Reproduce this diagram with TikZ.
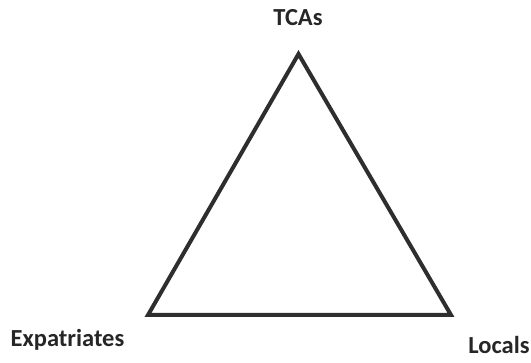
\documentclass[tikz,border=0pt]{standalone}
\usepackage{fontspec}
\setmainfont{Carlito}
\begin{document}
\begin{tikzpicture}[x=1pt,y=-1pt,
  lbl/.style={font=\fontsize{24.5}{28}\selectfont\bfseries, text=black!85, anchor=base, inner sep=0pt},
  edge/.style={line width=4pt, draw=black!82, line join=miter}]
\useasboundingbox (0,0) rectangle (531,363);
\coordinate (t) at (298.5,54);
\coordinate (bl) at (148,315);
\coordinate (br) at (451,315);
\draw[edge] (t) -- (bl) -- (br) -- cycle;
\node[lbl] (tcas) at (298,26) {TCAs};
\node[lbl] (exp) at (67.5,347) {Expatriates};
\node[lbl] (loc) at (499,354) {Locals};
\end{tikzpicture}
\end{document}
